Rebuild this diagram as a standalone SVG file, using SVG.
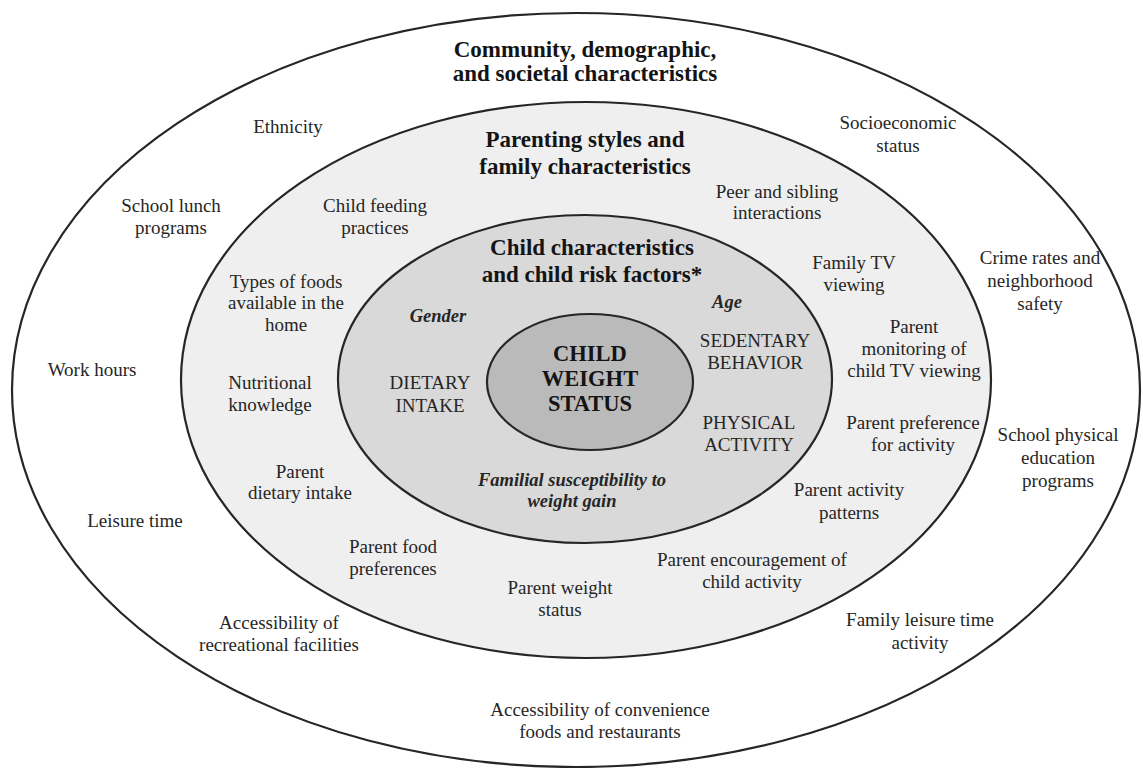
<svg xmlns="http://www.w3.org/2000/svg" width="1143" height="768" viewBox="0 0 1143 768">
<style>
.ring{stroke:#262626;stroke-width:2.2}
.t{font-family:"Liberation Serif","Times New Roman",serif;font-size:19px;fill:#262626;text-anchor:middle}
.h{font-family:"Liberation Serif","Times New Roman",serif;font-size:23px;font-weight:bold;fill:#141414;text-anchor:middle}
.i{font-family:"Liberation Serif","Times New Roman",serif;font-size:18.5px;font-style:italic;font-weight:bold;fill:#262626;text-anchor:middle}
.core{font-family:"Liberation Serif","Times New Roman",serif;font-size:22.5px;font-weight:bold;fill:#141414;text-anchor:middle}
</style>
<rect x="0" y="0" width="1143" height="768" fill="#ffffff"/>
<g id="rings">
<ellipse id="ring-community" class="ring" cx="576" cy="390" rx="564" ry="377" fill="#ffffff"/>
<ellipse id="ring-family" class="ring" cx="586" cy="380" rx="405" ry="278" fill="#efefef"/>
<ellipse id="ring-child" class="ring" cx="585" cy="379" rx="247" ry="164" fill="#d9d9d9"/>
<ellipse id="ring-core" class="ring" cx="590" cy="382" rx="103" ry="68" fill="#bababa"/>
</g>
<g id="connectors"></g>

<g id="community-title"><text class="h"><tspan x="585" y="57">Community, demographic,</tspan><tspan x="585" y="81">and societal characteristics</tspan></text></g>
<g id="ethnicity"><text class="t"><tspan x="288" y="133">Ethnicity</tspan></text></g>
<g id="socioeconomic"><text class="t"><tspan x="898" y="129">Socioeconomic</tspan><tspan x="898" y="152">status</tspan></text></g>
<g id="school-lunch"><text class="t"><tspan x="171" y="212">School lunch</tspan><tspan x="171" y="234">programs</tspan></text></g>
<g id="crime-rates"><text class="t"><tspan x="1040" y="264">Crime rates and</tspan><tspan x="1040" y="287">neighborhood</tspan><tspan x="1040" y="310">safety</tspan></text></g>
<g id="work-hours"><text class="t"><tspan x="92" y="376">Work hours</tspan></text></g>
<g id="school-pe"><text class="t"><tspan x="1058" y="441">School physical</tspan><tspan x="1058" y="464">education</tspan><tspan x="1058" y="487">programs</tspan></text></g>
<g id="leisure-time"><text class="t"><tspan x="135" y="527">Leisure time</tspan></text></g>
<g id="recreational"><text class="t"><tspan x="279" y="629">Accessibility of</tspan><tspan x="279" y="651">recreational facilities</tspan></text></g>
<g id="family-leisure"><text class="t"><tspan x="920" y="626">Family leisure time</tspan><tspan x="920" y="649">activity</tspan></text></g>
<g id="convenience"><text class="t"><tspan x="600" y="716">Accessibility of convenience</tspan><tspan x="600" y="738">foods and restaurants</tspan></text></g>

<g id="family-title"><text class="h"><tspan x="585" y="147">Parenting styles and</tspan><tspan x="585" y="174">family characteristics</tspan></text></g>
<g id="child-feeding"><text class="t"><tspan x="375" y="212">Child feeding</tspan><tspan x="375" y="234">practices</tspan></text></g>
<g id="peer-sibling"><text class="t"><tspan x="777" y="198">Peer and sibling</tspan><tspan x="777" y="219">interactions</tspan></text></g>
<g id="types-foods"><text class="t"><tspan x="286" y="288">Types of foods</tspan><tspan x="286" y="309">available in the</tspan><tspan x="286" y="331">home</tspan></text></g>
<g id="family-tv"><text class="t"><tspan x="854" y="269">Family TV</tspan><tspan x="854" y="291">viewing</tspan></text></g>
<g id="parent-monitoring"><text class="t"><tspan x="914" y="333">Parent</tspan><tspan x="914" y="355">monitoring of</tspan><tspan x="914" y="377">child TV viewing</tspan></text></g>
<g id="nutritional"><text class="t"><tspan x="270" y="389">Nutritional</tspan><tspan x="270" y="411">knowledge</tspan></text></g>
<g id="parent-preference"><text class="t"><tspan x="913" y="429">Parent preference</tspan><tspan x="913" y="451">for activity</tspan></text></g>
<g id="parent-dietary"><text class="t"><tspan x="300" y="478">Parent</tspan><tspan x="300" y="499">dietary intake</tspan></text></g>
<g id="parent-activity"><text class="t"><tspan x="849" y="496">Parent activity</tspan><tspan x="849" y="519">patterns</tspan></text></g>
<g id="parent-food"><text class="t"><tspan x="393" y="553">Parent food</tspan><tspan x="393" y="575">preferences</tspan></text></g>
<g id="parent-weight"><text class="t"><tspan x="560" y="594">Parent weight</tspan><tspan x="560" y="616">status</tspan></text></g>
<g id="parent-encouragement"><text class="t"><tspan x="752" y="566">Parent encouragement of</tspan><tspan x="752" y="588">child activity</tspan></text></g>

<g id="child-title"><text class="h"><tspan x="592" y="255">Child characteristics</tspan><tspan x="592" y="282">and child risk factors*</tspan></text></g>
<g id="gender"><text class="i"><tspan x="438" y="322">Gender</tspan></text></g>
<g id="age"><text class="i"><tspan x="727" y="308">Age</tspan></text></g>
<g id="dietary-intake"><text class="t"><tspan x="430" y="389">DIETARY</tspan><tspan x="430" y="412">INTAKE</tspan></text></g>
<g id="sedentary"><text class="t"><tspan x="755" y="347">SEDENTARY</tspan><tspan x="755" y="369">BEHAVIOR</tspan></text></g>
<g id="physical-activity"><text class="t"><tspan x="749" y="429">PHYSICAL</tspan><tspan x="749" y="451">ACTIVITY</tspan></text></g>
<g id="familial"><text class="i"><tspan x="572" y="486">Familial susceptibility to</tspan><tspan x="572" y="507">weight gain</tspan></text></g>

<g id="child-weight-status"><text class="core"><tspan x="590" y="361">CHILD</tspan><tspan x="590" y="386">WEIGHT</tspan><tspan x="590" y="411">STATUS</tspan></text></g>
</svg>
